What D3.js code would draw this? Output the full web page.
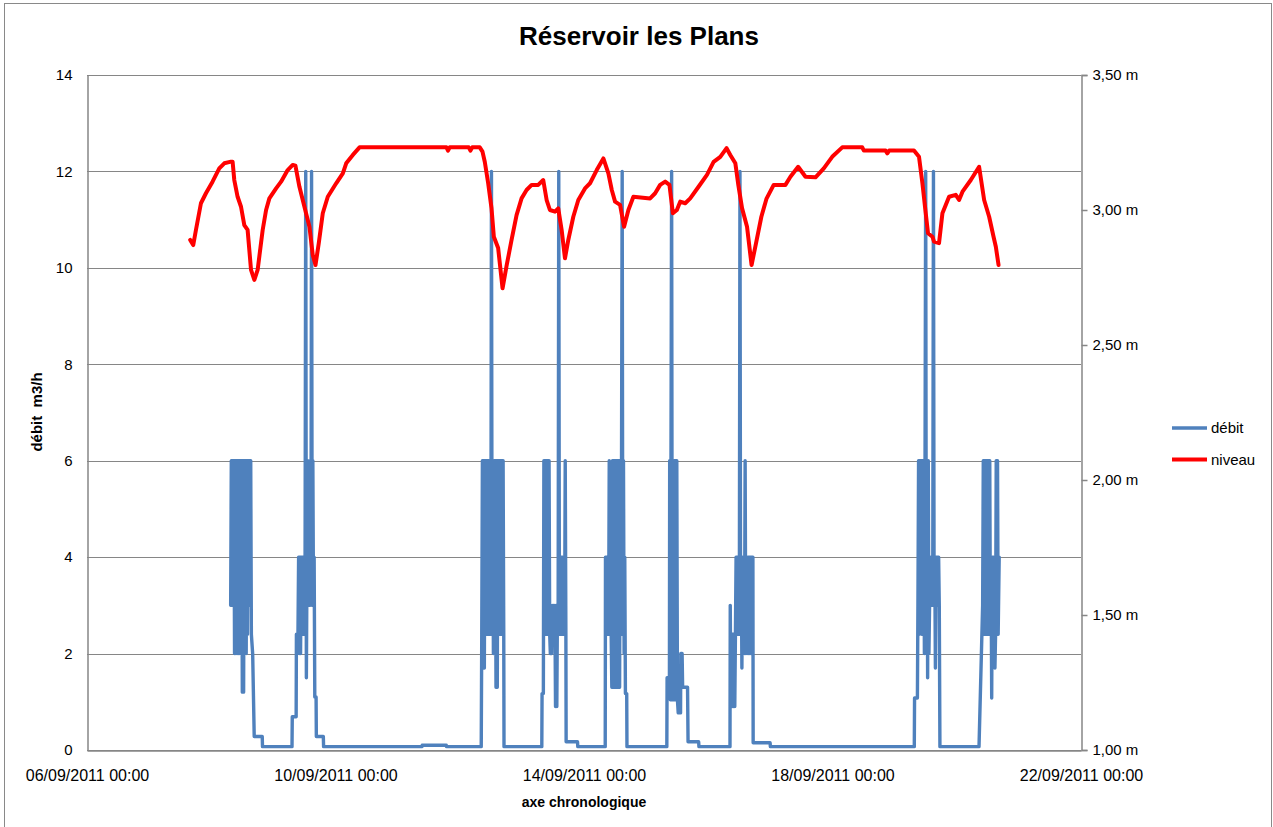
<!DOCTYPE html>
<html><head><meta charset="utf-8">
<script src="https://cdn.jsdelivr.net/npm/d3@7"></script>
<style>
body{margin:0;background:#fff;}
text{font-family:"Liberation Sans",Arial,sans-serif;fill:#000;}
</style>
</head><body>
<svg id="chart" width="1273" height="827"></svg>
<script>
// ---------- DATA ----------
const chartTitle = "Réservoir les Plans";
const startTime = "06/09/2011 00:00";
const xTickLabels = ["06/09/2011 00:00","10/09/2011 00:00","14/09/2011 00:00","18/09/2011 00:00","22/09/2011 00:00"];
const leftTicks = [0,2,4,6,8,10,12,14];
const rightTicks = [1,1.5,2,2.5,3,3.5];
const seriesNames = ["débit","niveau"];
const axisTitles = {x:"axe chronologique", y:"débit  m3/h"};

// débit (m3/h): [hours since 06/09/2011 00:00, value]
const debitData = [
[55.5,3],[55.75,6],[56,3],[56.25,6],[56.5,3],[56.75,6],[57,2],[57.25,6],[57.5,2],[57.75,6],[58,2],[58.25,6],[58.5,2],[58.75,6],[59,2],[59.25,6],[59.5,2],[59.75,6],[60,1.2],[60.25,6],[60.5,1.2],[60.75,6],[61,2],[61.25,6],[61.5,2],[61.75,6],[62,2.4],[62.25,6],[62.5,3],[62.75,6],[63,3],[63.25,6],[63.5,2.4],[64,2],[64.6,0.28],[67.7,0.28],[67.8,0.07],[79.2,0.07],[79.3,0.69],[80.8,0.69],[80.9,2.4],[81.5,2.4],
[81.75,4],[82,2],[82.25,4],[82.5,2],[82.75,4],[83,2.4],[83.25,4],[83.5,2.4],[83.75,4],[84,2.4],[84.25,4],[84.5,12],[84.75,1.5],[85,4],[85.25,6],[85.5,3],[85.75,4],[86,3],[86.25,6],[86.5,3],[86.75,12],[87,3],[87.25,6],[87.5,3],[87.75,4],[88,1.1],[88.5,1.1],[88.6,0.28],[91.3,0.28],[91.4,0.07],[129.4,0.07],[129.5,0.1],[138.8,0.1],[138.9,0.07],[152.3,0.07],
[152.5,2.4],[152.75,6],[153,1.7],[153.25,6],[153.5,1.7],[153.75,6],[154,2.4],[154.25,6],[154.5,2.4],[154.75,6],[155,2.4],[155.25,6],[155.5,2.4],[155.75,6],[156,2.4],[156.25,12],[156.5,2.4],[156.75,6],[157,2],[157.25,6],[157.5,2],[157.75,6],[158,1.3],[158.25,6],[158.5,1.3],[158.75,6],[159,2.4],[159.25,6],[159.5,2.4],[159.75,6],[160,2.4],[160.25,6],[160.5,2.4],[160.75,6],[161,2.4],[161.1,0.07],[175.7,0.07],
[175.8,1.17],[176.3,1.17],[176.5,6],[176.75,2.4],[177,6],[177.25,2.4],[177.5,6],[177.75,2.4],[178,6],[178.25,2.4],[178.5,6],[178.75,2.4],[179,2],[179.25,3],[179.5,2],[179.75,3],[180,2.4],[180.25,3],[180.5,2.4],[180.75,3],[181,0.9],[181.25,3],[181.5,0.9],[181.75,3],[182,2.4],[182.25,12],[182.5,2.4],[182.75,4],[183,2.4],[183.25,4],[183.5,2.4],[183.75,4],[184,2.4],[184.5,2.4],[184.75,6],[185,2.4],[185.1,0.17],[189.5,0.17],[189.6,0.07],[200.2,0.07],
[200.3,4],[200.9,4],[201,2.4],[201.25,4],[201.5,2.4],[201.75,6],[202,2.4],[202.25,4],[202.5,2.4],[202.75,1.3],[203,6],[203.25,1.3],[203.5,6],[203.75,1.3],[204,6],[204.25,1.3],[204.5,6],[204.75,1.3],[205,6],[205.25,1.3],[205.5,6],[205.75,1.3],[206,6],[206.25,2.4],[206.5,6],[206.75,12],[207,2.4],[207.25,6],[207.5,2],[207.75,4],[208,1.17],[208.5,1.17],[208.6,0.07],[224,0.07],
[224.1,1.5],[225,1.5],[225.1,6],[225.35,1.04],[225.6,6],[225.85,12],[226.1,1.04],[226.35,6],[226.6,1.04],[226.85,6],[227.1,1.04],[227.35,6],[227.6,1.04],[227.85,6],[228.1,1.04],[228.4,0.77],[229.3,0.77],[229.4,2],[229.9,2],[230.1,1.3],[232,1.3],[232.2,0.17],[236.3,0.17],[236.4,0.07],[248.4,0.07],
[248.5,3],[248.75,0.9],[249,2.4],[249.25,0.9],[249.5,2.4],[249.75,0.9],[250,2.4],[250.25,0.9],[250.5,2.4],[250.75,4],[251,2.4],[251.25,4],[251.5,2.4],[251.75,4],[252,2.4],[252.25,12],[252.5,2.4],[252.75,4],[253,1.7],[253.25,4],[253.5,2],[253.75,4],[254,2],[254.25,6],[254.5,2],[254.75,4],[255,2],[255.25,4],[255.5,2],[255.75,4],[256,2],[256.25,4],[256.5,2],[256.75,4],[257,2],[257.25,4],[257.35,0.15],[263.9,0.15],[264,0.07],[319.6,0.07],
[319.7,1.08],[320.8,1.08],[321,3],[321.25,6],[321.5,2.4],[321.75,6],[322,3],[322.25,6],[322.5,2.4],[322.75,6],[323,2.4],[323.25,6],[323.5,2],[323.75,6],[324,12],[324.25,2],[324.5,6],[324.75,1.5],[325,6],[325.25,2],[325.5,3],[325.75,4],[326,3],[326.25,4],[326.5,3],[326.75,4],[327,12],[327.25,3],[327.5,4],[327.75,1.7],[328,4],[328.25,3],[328.5,4],[328.75,3],[329,4],[329.25,3],[329.5,0.07],[344.6,0.07],
[346,3],[346.25,6],[346.5,2.4],[346.75,6],[347,2.4],[347.25,6],[347.5,2.4],[347.75,6],[348,2.4],[348.25,6],[348.5,2.4],[348.75,6],[349,2.4],[349.25,4],[349.5,1.08],[349.75,4],[350,2.4],[350.25,4],[350.5,2.4],[350.75,1.7],[351,2.4],[351.25,6],[351.5,2.4],[351.75,6],[352,2.4],[352.4,4]
];

// niveau (m): [hours since 06/09/2011 00:00, level]
const niveauData = [
[39.87,2.889],[41.03,2.870],[42.08,2.926],[44.01,3.025],[45.95,3.062],[48.50,3.105],[51.10,3.154],[53.03,3.173],[55.63,3.179],[56.25,3.179],[56.90,3.111],[58.18,3.049],[59.50,3.012],[60.77,2.944],[62.05,2.926],[63.37,2.778],[64.65,2.741],[65.92,2.778],[67.86,2.926],[69.18,3.000],[70.45,3.043],[73.05,3.080],[74.98,3.105],[77.54,3.148],[79.47,3.167],[80.52,3.164],[82.07,3.086],[84.00,3.012],[85.94,2.938],[87.21,2.833],[88.26,2.796],[89.54,2.877],[91.09,2.988],[93.02,3.049],[96.27,3.099],[98.83,3.136],[100.14,3.173],[102.70,3.204],[105.29,3.232],
[138.85,3.232],[139.47,3.220],[140.13,3.232],[147.48,3.232],[148.14,3.220],[148.84,3.232],[151.74,3.232],[152.79,3.216],[153.68,3.178],[154.96,3.100],[156.27,3.007],[157.16,2.901],[158.83,2.859],[160.53,2.710],[162.08,2.793],[164.02,2.889],[165.95,2.981],[167.89,3.043],[169.82,3.074],[171.76,3.093],[174.31,3.093],[176.25,3.111],[177.56,3.037],[178.84,3.000],[180.78,2.994],[182.05,3.006],[183.37,2.926],[184.65,2.821],[185.93,2.889],[187.86,2.975],[189.80,3.037],[192.39,3.080],[194.33,3.099],[196.92,3.148],[199.48,3.191],[201.41,3.136],[202.73,3.074],[204.00,3.031],[205.94,3.019],[207.49,2.938],[209.15,3.000],[211.09,3.049],[217.55,3.043],[219.49,3.062],[221.42,3.093],[223.36,3.105],[225.02,3.093],[226.34,2.988],[227.89,3.000],[229.16,3.031],[231.10,3.025],[233.03,3.043],[236.25,3.086],[239.50,3.130],[242.06,3.178],[244.65,3.197],[247.09,3.229],[248.52,3.204],[250.46,3.173],[251.62,3.093],[253.05,3.007],[254.99,2.938],[256.73,2.796],[258.59,2.883],[260.52,2.975],[262.46,3.041],[265.28,3.093],[269.81,3.093],[271.75,3.123],[274.73,3.160],[277.56,3.123],[281.43,3.121],[284.64,3.154],[287.89,3.197],[291.76,3.232],[299.50,3.232],[300.12,3.220],[308.52,3.220],[309.18,3.210],[309.88,3.220],[319.48,3.220],[321.41,3.197],[322.73,3.099],[324.01,2.988],[324.90,2.914],[326.60,2.901],[327.22,2.883],[329.15,2.877],[330.47,2.988],[333.03,3.049],[335.62,3.056],[336.90,3.037],[338.21,3.068],[341.43,3.111],[344.64,3.160],[346.58,3.037],[348.51,2.975],[350.21,2.901],[351.10,2.864],[352.15,2.796]
];

const seriesColors = ["#4F81BD","#FF0000"];

// ---------- CHART ----------
const svg = d3.select("#chart");
const parse = d3.utcParse("%d/%m/%Y %H:%M");
const fmt = d3.utcFormat("%d/%m/%Y %H:%M");
const t0 = parse(startTime);
const toDate = h => d3.utcMinute.offset(t0, Math.round(h*60));

const L = 87, R = 1081, T = 75, B = 750;
const x = d3.scaleUtc().domain([parse(xTickLabels[0]), parse(xTickLabels[xTickLabels.length-1])]).range([L, R]);
const yL = d3.scaleLinear().domain([0,14]).range([B, T]);
const yR = d3.scaleLinear().domain([1,3.5]).range([B, T]);

// outer border
svg.append("rect").attr("x",4.5).attr("y",3.5).attr("width",1267).attr("height",830)
  .attr("fill","none").attr("stroke","#898989").attr("stroke-width",1);

// gridlines
svg.append("g").selectAll("line").data(leftTicks).join("line")
  .attr("x1",L).attr("x2",R).attr("y1",d=>Math.round(yL(d))+0.5).attr("y2",d=>Math.round(yL(d))+0.5)
  .attr("stroke","#868686").attr("stroke-width",1.2);

// axes
const gL = svg.append("g").attr("transform",`translate(${L+0.5},0)`)
  .call(d3.axisLeft(yL).tickValues(leftTicks).tickSize(0).tickPadding(15).tickFormat(d3.format("d")));
const gR = svg.append("g").attr("transform",`translate(${R+0.5},0)`)
  .call(d3.axisRight(yR).tickValues(rightTicks).tickSize(6).tickPadding(5)
    .tickFormat(d => d3.format(".2f")(d).replace(".",",")+" m"));
const gB = svg.append("g").attr("transform",`translate(0,${B+0.5})`)
  .call(d3.axisBottom(x).tickValues(xTickLabels.map(parse)).tickSize(0).tickPadding(19).tickFormat(fmt));
[gL,gR,gB].forEach(g=>{
  g.select(".domain").attr("stroke","#868686").attr("stroke-width",1.5);
  g.selectAll(".tick line").attr("stroke","#868686").attr("stroke-width",1.5);
  g.selectAll("text").style("font-family",'"Liberation Sans",Arial,sans-serif').attr("fill","#000");
});
gL.selectAll("text").style("font-size","15px");
gR.selectAll("text").style("font-size","15px");
gB.selectAll("text").style("font-size","16px");

// lines
const lineD = d3.line().x(d=>x(toDate(d[0]))).y(d=>yL(d[1]));
const lineN = d3.line().x(d=>x(toDate(d[0]))).y(d=>yR(d[1]));
svg.append("path").datum(debitData).attr("d",lineD).attr("fill","none")
  .attr("stroke",seriesColors[0]).attr("stroke-width",3.4).attr("stroke-linejoin","round").attr("stroke-linecap","round");
svg.append("path").datum(niveauData).attr("d",lineN).attr("fill","none")
  .attr("stroke",seriesColors[1]).attr("stroke-width",4).attr("stroke-linejoin","round").attr("stroke-linecap","round");

// title
svg.append("text").attr("x",639).attr("y",45).attr("text-anchor","middle")
  .style("font-size","26px").style("font-weight","bold").text(chartTitle);
// axis titles
svg.append("text").attr("x",584).attr("y",807).attr("text-anchor","middle")
  .style("font-size","14px").style("font-weight","bold").text(axisTitles.x);
svg.append("text").attr("transform","translate(42,412) rotate(-90)").attr("text-anchor","middle")
  .style("font-size","15px").style("font-weight","bold").style("white-space","pre").text(axisTitles.y);

// legend
const lg = svg.append("g");
seriesNames.forEach((n,i)=>{
  const yy = 428 + i*31.5;
  lg.append("line").attr("x1",1172).attr("x2",1207).attr("y1",yy).attr("y2",yy)
    .attr("stroke",seriesColors[i]).attr("stroke-width",i?4:3.4);
  lg.append("text").attr("x",1211).attr("y",yy+5).style("font-size","15px").text(n);
});
</script>
</body></html>
